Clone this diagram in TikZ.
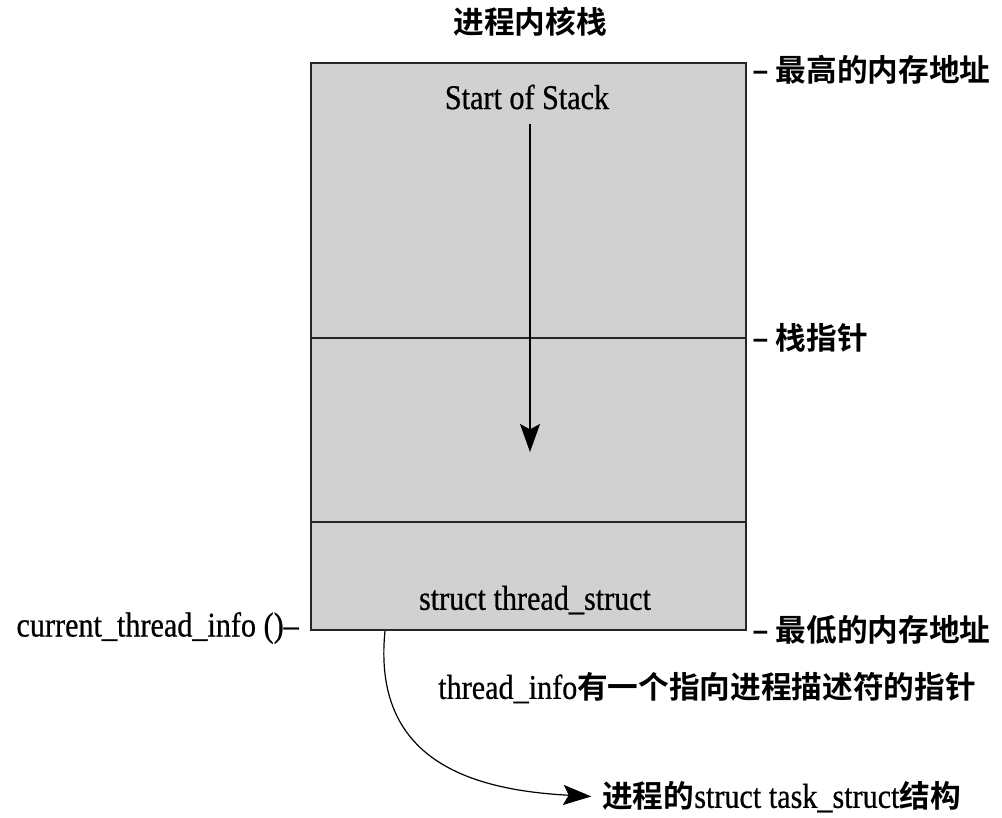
\documentclass[tikz,border=0pt]{standalone}
\usepackage{fontspec}
\setmainfont{Liberation Serif}[FakeStretch=0.87, FakeBold=0.6]
\newfontfamily\cjk{Noto Sans CJK SC}[BoldFont={Noto Sans CJK SC Bold}]
\usetikzlibrary{arrows.meta}
\newcommand{\latsize}{\fontsize{26}{30}\selectfont}
\newcommand{\zhsize}{\cjk\bfseries\fontsize{23}{27}\selectfont}
\tikzset{
  lat/.style={font=\latsize, inner sep=0pt},
  zh/.style={font=\zhsize, inner sep=0pt},
  boxline/.style={draw=black!85, line width=2.2pt},
  conn/.style={draw=black, line width=0.9pt},
  bigtip/.style={-{Stealth[length=21pt, width=15pt, inset=4pt]}},
}
\begin{document}
\begin{tikzpicture}[x=0.75pt,y=-0.75pt]
\useasboundingbox (0,0) rectangle (1002,817);
% stack box
\coordinate (tl) at (311,63);
\coordinate (br) at (746,630);
\fill[black!18] (tl) rectangle (br);
\draw[boxline] (311,338) -- (746,338);
\draw[boxline] (311,522) -- (746,522);
\draw[boxline] (tl) rectangle (br);
% texts
\node[zh] (title) at (530,22) {进程内核栈};
\node[lat] (start) at (527,97) {Start of Stack};
\node[lat] (thr) at (535,600) {struct thread\_struct};
\coordinate (arrbeg) at (530,124);
\coordinate (arrend) at (530,452);
\draw[conn, line width=1pt, bigtip] (arrbeg) -- (arrend);
\node[zh, anchor=west] (high) at (752,70) {– 最高的内存地址};
\node[zh, anchor=west] (sp) at (752,338) {– 栈指针};
\node[zh, anchor=west] (low) at (752,630) {– 最低的内存地址};
\node[lat, anchor=east] (cur) at (299,628) {current\_thread\_info ()–};
\node[anchor=west, inner sep=0pt] (info) at (438,688)
  {\latsize thread\_info{\zhsize 有一个指向进程描述符的指针}};
\node[anchor=west, inner sep=0pt] (task) at (602,797)
  {{\zhsize 进程的}\latsize struct task\_struct{\zhsize 结构}};
\coordinate (cbeg) at (385,631);
\draw[conn, bigtip, shorten >=8pt] (cbeg) .. controls (372,760) and (470,790) .. (task.west);
\end{tikzpicture}
\end{document}
